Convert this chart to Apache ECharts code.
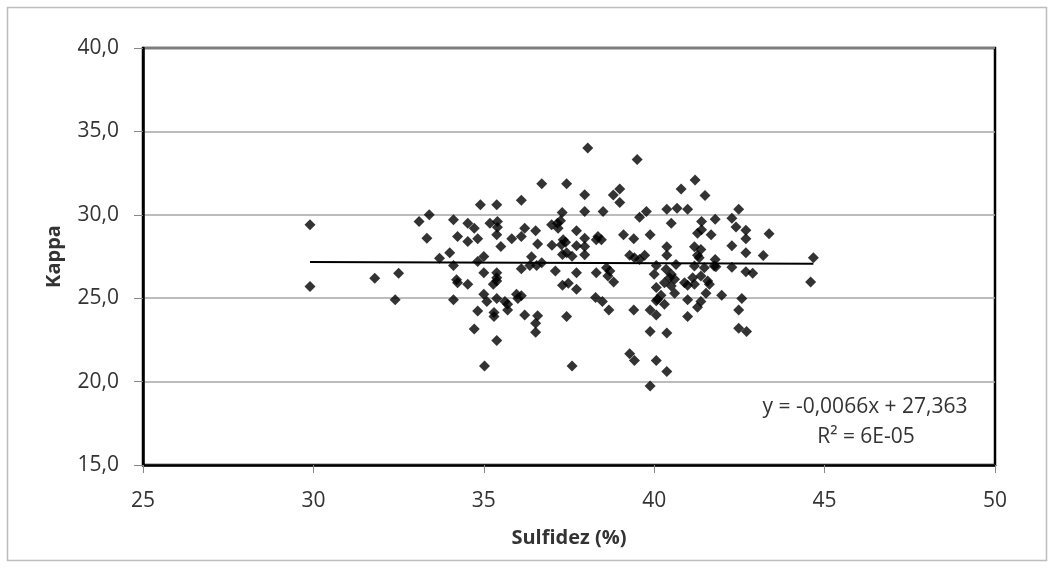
<!DOCTYPE html>
<html>
  <head>
    <meta charset="utf-8" />
    <title>Kappa x Sulfidez</title>
    <script src="https://cdn.jsdelivr.net/npm/echarts@6/dist/echarts.min.js"></script>
    <style>
      body { margin: 0; background: #fff; }
      #main { width: 1054px; height: 568px; }
    </style>
  </head>
  <body>
    <div id="main"></div>
    <script type="text/javascript">
      // sulfidez (%) x kappa
      var sulfidez = [
        29.9, 29.9, 31.8, 32.5, 32.4, 33.1, 33.4, 33.33, 33.7,
        38.05, 36.7, 37.43, 37.96, 34.9, 35.38, 36.1, 37.3, 37.96,
        34.11, 34.53, 34.72, 35.18, 35.4, 35.4, 36.99, 37.16, 37.25, 37.18, 36.2, 36.52, 37.72,
        34.23, 34.53, 34.82, 35.38, 35.82, 36.1, 35.5, 36.58, 37.0, 37.33, 37.4, 37.28, 37.72, 37.96,
        34.0, 35.0, 34.82, 34.11, 36.4, 37.31, 37.43, 37.59, 37.96,
        36.1, 36.35, 36.55, 36.7, 35.0, 35.38, 37.1, 37.72, 34.2,
        35.38, 34.23, 34.53, 35.28, 35.38, 37.31, 37.48, 37.72, 34.11, 35.0, 35.09, 35.38, 35.96,
        36.1, 36.0, 35.62, 35.7, 34.82, 35.3, 35.3, 35.7, 36.2, 36.58, 36.52, 36.52, 37.43, 34.72,
        35.38, 35.02, 37.59,
        39.5, 41.2, 40.79, 41.49, 38.99, 38.8, 38.99, 38.5, 39.77, 39.57, 40.37, 40.67, 40.98,
        40.5, 41.39, 41.39, 41.79, 38.35, 38.45, 38.3, 39.1, 39.4, 39.88, 41.27, 41.67, 37.96,
        40.37, 40.37, 41.18, 41.37, 41.27, 41.32, 39.28, 39.42, 39.57, 39.72, 41.79, 38.3, 38.6,
        38.7, 38.64, 40.06, 40.0, 40.35, 40.5, 40.64, 40.45, 40.6, 41.18, 41.47, 41.76, 41.37,
        38.81, 38.28, 38.48, 38.67, 39.4, 39.88, 40.06, 40.06, 40.1, 40.2, 40.06, 40.3, 40.3,
        40.5, 40.6, 40.89, 40.98, 41.18, 41.13, 41.57, 41.62, 40.98, 41.37, 41.27, 41.52, 41.98,
        40.98, 39.88, 40.37, 39.28, 39.42, 40.06, 40.37, 39.88,
        42.48, 42.28, 42.4, 42.69, 42.69, 43.37, 42.28, 42.69, 43.2, 44.67, 41.81, 42.28, 42.69,
        42.89, 44.59, 42.57, 42.48, 42.48, 42.71
      ];
      var kappa = [
        29.4, 25.7, 26.2, 26.5, 24.9, 29.6, 30.0, 28.6, 27.4,
        34.0, 31.86, 31.86, 31.2, 30.6, 30.6, 30.87, 30.14, 30.2,
        29.7, 29.5, 29.2, 29.5, 29.6, 29.25, 29.4, 29.5, 29.64, 29.2, 29.2, 29.05, 29.05,
        28.7, 28.4, 28.57, 28.8, 28.57, 28.7, 28.1, 28.25, 28.17, 28.5, 28.35, 28.2, 28.15, 28.6,
        27.72, 27.5, 27.2, 26.96, 27.48, 27.62, 27.72, 27.52, 27.6,
        26.77, 26.96, 26.96, 27.12, 26.53, 26.53, 26.63, 26.53, 26.1,
        26.23, 25.93, 25.83, 25.83, 26.03, 25.77, 25.9, 25.54, 24.9, 25.24, 24.8, 24.98, 25.24,
        25.14, 24.98, 24.8, 24.64, 24.24, 24.15, 23.9, 24.3, 24.0, 23.95, 23.5, 22.96, 23.9, 23.15,
        22.46, 20.93, 20.93,
        33.32, 32.08, 31.55, 31.15, 31.55, 31.19, 30.73, 30.2, 30.2, 29.86, 30.34, 30.4, 30.34,
        29.5, 29.6, 29.1, 29.74, 28.7, 28.5, 28.5, 28.8, 28.57, 28.8, 28.9, 28.8, 28.1,
        28.08, 27.58, 28.08, 27.92, 27.58, 27.42, 27.58, 27.42, 27.32, 27.58, 27.32, 26.53, 26.83,
        26.63, 26.33, 26.96, 26.43, 26.73, 26.43, 27.02, 26.23, 26.13, 26.93, 26.83, 26.93, 26.33,
        25.97, 25.04, 24.8, 24.3, 24.3, 24.3, 24.0, 25.64, 24.94, 25.18, 24.84, 24.64, 25.93,
        25.73, 25.3, 25.93, 25.77, 25.83, 26.23, 26.03, 25.83, 24.9, 24.8, 24.45, 25.3, 25.18,
        23.9, 23.0, 22.92, 21.67, 21.27, 21.27, 20.61, 19.74,
        30.34, 29.8, 29.27, 29.07, 28.57, 28.87, 28.15, 27.72, 27.56, 27.42, 26.88, 26.86, 26.58,
        26.49, 25.97, 24.98, 24.29, 23.2, 23.0
      ];
      // linear trend shown on the chart
      var slope = -0.0066;
      var intercept = 27.363;
      var xTicks = [25, 30, 35, 40, 45, 50];
      var yTicks = [15, 20, 25, 30, 35, 40];

      var points = sulfidez.map(function (x, i) { return [x, kappa[i]]; });
      var xMin = Math.min.apply(null, sulfidez);
      var xMax = Math.max.apply(null, sulfidez);
      var trend = [
        [xMin, slope * xMin + intercept],
        [xMax, slope * xMax + intercept]
      ];

      var font = "Open Sans";
      var myChart = echarts.init(document.getElementById("main"));

      var option = {
        animation: false,
        textStyle: { fontFamily: font },
        grid: {
          left: 143, top: 48, width: 852, height: 417,
          show: true, borderColor: "#000", borderWidth: 2.5
        },
        xAxis: {
          type: "value",
          min: xTicks[0], max: xTicks[xTicks.length - 1], interval: 5,
          name: "Sulfidez (%)",
          nameLocation: "middle",
          nameGap: 63,
          nameTextStyle: { fontFamily: font, fontSize: 20, fontWeight: "bold", color: "#333" },
          axisLine: { show: true, lineStyle: { color: "#000", width: 2.5 } },
          axisTick: { show: true, inside: false, length: 8, lineStyle: { color: "#888" } },
          axisLabel: { fontFamily: font, fontSize: 21, color: "#333", margin: 26 },
          splitLine: { show: false }
        },
        yAxis: {
          type: "value",
          min: yTicks[0], max: yTicks[yTicks.length - 1], interval: 5,
          name: "Kappa",
          nameLocation: "middle",
          nameGap: 79,
          nameRotate: 90,
          nameTextStyle: { fontFamily: font, fontSize: 20, fontWeight: "bold", color: "#333" },
          axisLine: { show: true, lineStyle: { color: "#000", width: 2.5 } },
          axisTick: { show: true, inside: false, length: 9, lineStyle: { color: "#888" } },
          axisLabel: {
            fontFamily: font, fontSize: 21, color: "#333", margin: 24,
            formatter: function (v) { return v.toFixed(1).replace(".", ","); }
          },
          splitLine: { show: true, lineStyle: { color: "#a6a6a6", width: 1.5 } }
        },
        series: [
          {
            type: "scatter",
            data: points,
            symbol: "diamond",
            symbolSize: 11,
            itemStyle: { color: "#000" }
          },
          {
            type: "line",
            data: trend,
            symbol: "none",
            lineStyle: { color: "#000", width: 2 },
            z: 3
          }
        ],
        graphic: [
          {
            type: "rect",
            shape: { x: 7.5, y: 7.5, width: 1039, height: 553 },
            style: { fill: "none", stroke: "#bdbdbd", lineWidth: 1.5 },
            silent: true
          },
          {
            type: "text",
            x: 865, y: 407,
            style: {
              text: "y = -0,0066x + 27,363",
              align: "center", verticalAlign: "middle",
              fontFamily: font, fontSize: 21, fill: "#333"
            }
          },
          {
            type: "text",
            x: 866, y: 437,
            style: {
              text: "R² = 6E-05",
              align: "center", verticalAlign: "middle",
              fontFamily: font, fontSize: 21, fill: "#333"
            }
          }
        ]
      };

      myChart.setOption(option);
    </script>
  </body>
</html>
